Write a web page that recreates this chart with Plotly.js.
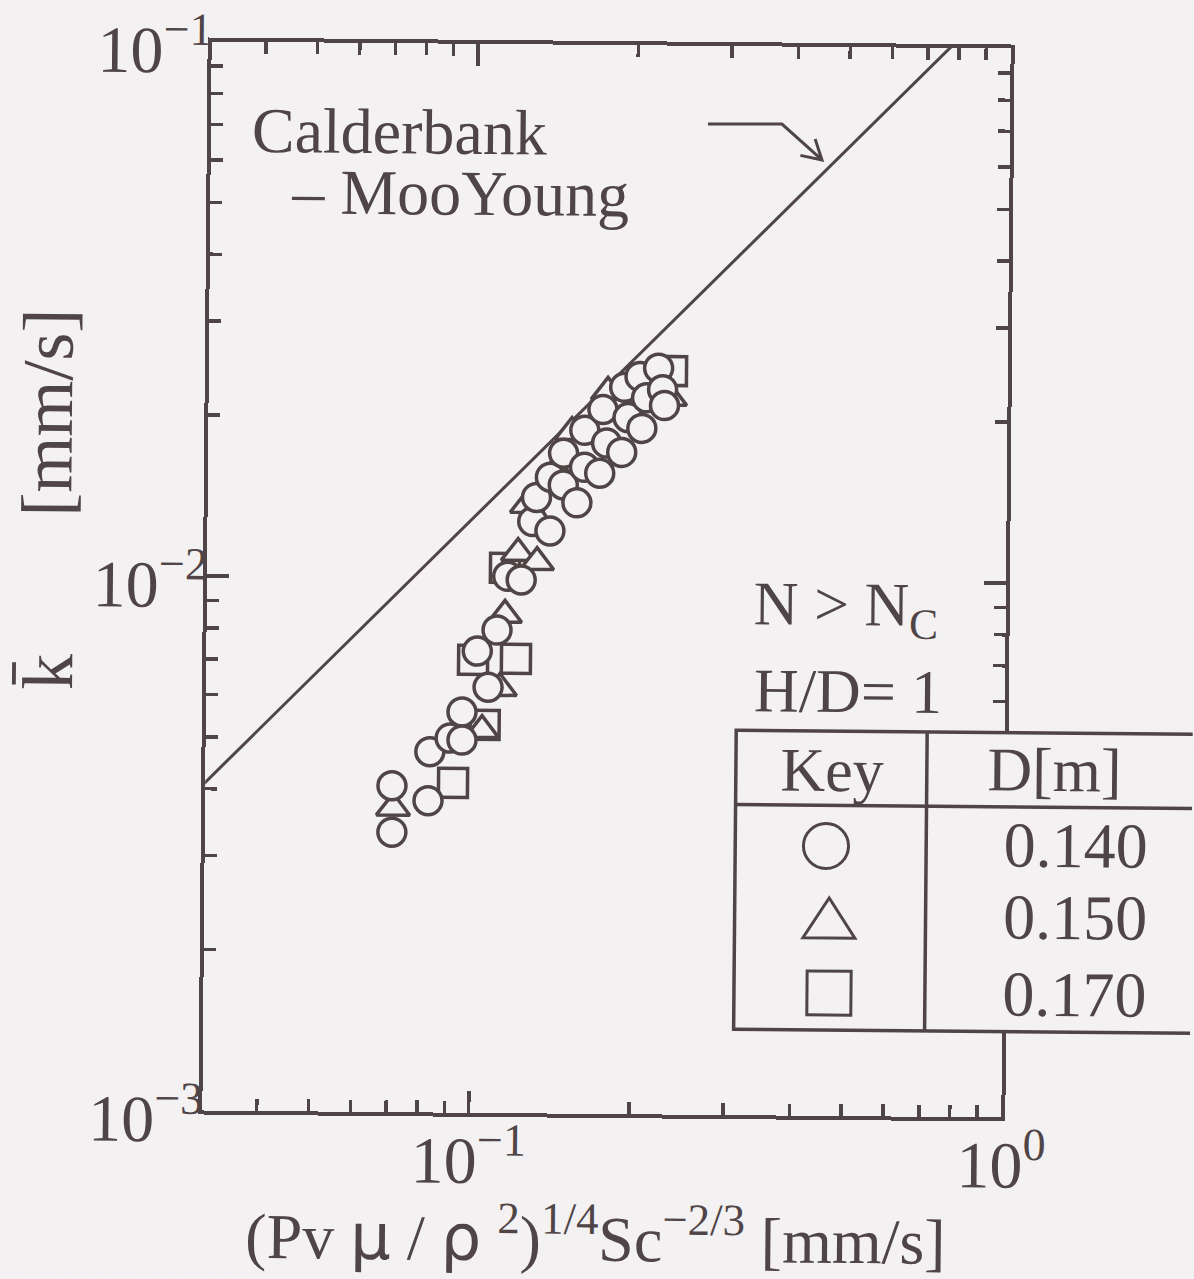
<!DOCTYPE html>
<html>
<head>
<meta charset="utf-8">
<script src="https://cdn.plot.ly/plotly-3.0.1.min.js"></script>
<style>
  html, body { margin: 0; padding: 0; background: #f4f1f3; overflow: hidden; }
  #chart { width: 1194px; height: 1279px; transform: rotate(0.5deg); transform-origin: 606.5px 579.5px; }
</style>
</head>
<body>
<div id="chart"></div>
<script>
// Mass-transfer coefficient data, H/D = 1, N > Nc
// D = 0.140 m (circles)
const circleX = [0.0709, 0.0710, 0.0829, 0.0834, 0.0910, 0.0957, 0.0958, 0.102, 0.107, 0.111,
                 0.116, 0.123, 0.129, 0.131, 0.139, 0.139, 0.147, 0.147, 0.156, 0.161,
                 0.161, 0.172, 0.174, 0.177, 0.189, 0.191, 0.194, 0.204, 0.206, 0.210,
                 0.221, 0.225, 0.227];
const circleY = [0.00408, 0.00334, 0.00383, 0.00473, 0.00502, 0.00562, 0.00498, 0.00731, 0.00626, 0.00801,
                 0.0101, 0.00995, 0.0128, 0.0142, 0.0155, 0.0123, 0.0172, 0.0150, 0.0139, 0.0190,
                 0.0162, 0.0158, 0.0208, 0.0180, 0.0173, 0.0229, 0.0201, 0.0240, 0.0192, 0.0219,
                 0.0249, 0.0227, 0.0212];
// D = 0.150 m (triangles)
const triX = [0.0713, 0.1044, 0.1126, 0.1148, 0.1212, 0.1258, 0.1316, 0.1423, 0.1523, 0.1777, 0.2130, 0.2324];
const triY = [0.00371, 0.00520, 0.00624, 0.00855, 0.01117, 0.01374, 0.01075, 0.01600, 0.01885, 0.02243, 0.02315, 0.02191];
// D = 0.170 m (squares)
const sqX = [0.0923, 0.1002, 0.1056, 0.1146, 0.1206, 0.2342];
const sqY = [0.00414, 0.00704, 0.00532, 0.01047, 0.00708, 0.02461];
// Calderbank - Moo-Young correlation, k = 0.13 (P mu / rho^2)^(1/4) Sc^(-2/3)
const lineX = [0.03, 1.0];
const lineY = [0.0039, 0.13];

// Axis ticks
const sup = s => '<sup><span style="font-size:46px">' + s + '</span></sup>';
const xMajor = [0.1, 1];
const xMajorText = ['10' + sup('\u22121'), '10' + sup('0')];
const xMinor = [0.04, 0.05, 0.06, 0.07, 0.08, 0.09, 0.2, 0.3, 0.4, 0.5, 0.6, 0.7, 0.8, 0.9];
const yMajor = [0.001, 0.01, 0.1];
const yMajorText = ['10' + sup('\u22123'), '10' + sup('\u22122'), '10' + sup('\u22121')];
const yMinor = [0.002, 0.003, 0.004, 0.005, 0.006, 0.007, 0.008, 0.009,
                0.02, 0.03, 0.04, 0.05, 0.06, 0.07, 0.08, 0.09];

// Key table rows
const keyDiam = ['0.140', '0.150', '0.170'];

const INK = '#4f4546';
const BG = '#f4f1f3';
const FONT = 'Liberation Serif, Times New Roman, serif';

const markerBase = (symbol, size) => ({
  symbol: symbol, size: size, color: BG,
  line: { color: INK, width: 3.5 }
});

const traces = [
  { x: lineX, y: lineY, mode: 'lines', line: { color: INK, width: 3 }, hoverinfo: 'skip' },
  { x: sqX, y: sqY, mode: 'markers', marker: markerBase('square', 29) },
  { x: triX, y: triY, mode: 'markers', marker: markerBase('triangle-up', 29) },
  { x: circleX, y: circleY, mode: 'markers', marker: markerBase('circle', 28) }
];

const axisCommon = {
  type: 'log',
  showgrid: false, zeroline: false,
  showline: true, linecolor: INK, linewidth: 4,
  mirror: 'ticks',
  ticks: 'inside', ticklen: 22, tickwidth: 3.5, tickcolor: INK,
  tickmode: 'array',
  ticklabeloverflow: 'allow',
  tickfont: { family: FONT, size: 66, color: INK }
};

const layout = {
  width: 1194, height: 1279,
  margin: { l: 207, r: 188, t: 45, b: 165 },
  paper_bgcolor: BG, plot_bgcolor: BG,
  showlegend: false,
  font: { family: FONT, color: INK },
  xaxis: Object.assign({}, axisCommon, {
    range: [-1.5, 0],
    tickvals: xMajor, ticktext: xMajorText,
    ticklabelstandoff: -13,
    minor: { tickmode: 'array', tickvals: xMinor, ticks: 'inside', ticklen: 12, tickwidth: 3.5, tickcolor: INK, showgrid: false }
  }),
  yaxis: Object.assign({}, axisCommon, {
    range: [-3, -1],
    tickvals: yMajor, ticktext: yMajorText,
    ticklabelstandoff: -18,
    ticklabelshift: 8,
    minor: { tickmode: 'array', tickvals: yMinor, ticks: 'inside', ticklen: 12, tickwidth: 3.5, tickcolor: INK, showgrid: false }
  }),
  shapes: [
    // pointer from the label to the correlation line
    { type: 'path', xref: 'paper', yref: 'paper', layer: 'above',
      path: 'M 0.6220,0.9270 L 0.7146,0.9275 L 0.7651,0.8942 M 0.7563,0.9138 L 0.7651,0.8942 L 0.7380,0.8983',
      line: { color: INK, width: 3 } },
    // key table
    { type: 'rect', xref: 'paper', yref: 'paper', layer: 'above',
      x0: 0.664, x1: 1.30, y0: 0.0804, y1: 0.360,
      fillcolor: BG, line: { color: INK, width: 3.5 } },
    { type: 'line', xref: 'paper', yref: 'paper', layer: 'above',
      x0: 0.903, x1: 0.903, y0: 0.0804, y1: 0.360, line: { color: INK, width: 3.5 } },
    { type: 'line', xref: 'paper', yref: 'paper', layer: 'above',
      x0: 0.664, x1: 1.30, y0: 0.2905, y1: 0.2905, line: { color: INK, width: 3.5 } },
    // key symbols
    { type: 'circle', xref: 'paper', yref: 'paper', layer: 'above',
      x0: 0.7776 - 0.0282, x1: 0.7776 + 0.0282, y0: 0.2525 - 0.0210, y1: 0.2525 + 0.0210,
      line: { color: INK, width: 3 } },
    { type: 'path', xref: 'paper', yref: 'paper', layer: 'above',
      path: 'M 0.7497,0.1665 L 0.8148,0.1665 L 0.7822,0.2039 Z',
      line: { color: INK, width: 3 } },
    { type: 'rect', xref: 'paper', yref: 'paper', layer: 'above',
      x0: 0.7554, x1: 0.8105, y0: 0.0944, y1: 0.1355,
      line: { color: INK, width: 3 } }
  ],
  annotations: [
    { xref: 'paper', yref: 'paper', x: 0.0489, y: 0.9176, xanchor: 'left', yanchor: 'middle',
      text: 'Calderbank', showarrow: false, font: { family: FONT, size: 64, color: INK } },
    { xref: 'paper', yref: 'paper', x: 0.0984, y: 0.8599, xanchor: 'left', yanchor: 'middle',
      text: '\u2013 MooYoung', showarrow: false, font: { family: FONT, size: 64, color: INK } },
    { xref: 'paper', yref: 'paper', x: 0.6824, y: 0.4746, xanchor: 'left', yanchor: 'middle',
      text: 'N &gt; N<sub>C</sub>', showarrow: false, font: { family: FONT, size: 62, color: INK } },
    { xref: 'paper', yref: 'paper', x: 0.6833, y: 0.3979, xanchor: 'left', yanchor: 'middle',
      text: 'H/D= 1', showarrow: false, font: { family: FONT, size: 62, color: INK } },
    { xref: 'paper', yref: 'paper', x: 0.7844, y: 0.3237, xanchor: 'center', yanchor: 'middle',
      text: 'Key', showarrow: false, font: { family: FONT, size: 62, color: INK } },
    { xref: 'paper', yref: 'paper', x: 1.062, y: 0.3255, xanchor: 'center', yanchor: 'middle',
      text: 'D[m]', showarrow: false, font: { family: FONT, size: 62, color: INK } },
    { xref: 'paper', yref: 'paper', x: 1.090, y: 0.2550, xanchor: 'center', yanchor: 'middle',
      text: keyDiam[0], showarrow: false, font: { family: FONT, size: 64, color: INK } },
    { xref: 'paper', yref: 'paper', x: 1.090, y: 0.1872, xanchor: 'center', yanchor: 'middle',
      text: keyDiam[1], showarrow: false, font: { family: FONT, size: 64, color: INK } },
    { xref: 'paper', yref: 'paper', x: 1.090, y: 0.1156, xanchor: 'center', yanchor: 'middle',
      text: keyDiam[2], showarrow: false, font: { family: FONT, size: 64, color: INK } },
    // axis titles
    { xref: 'paper', yref: 'paper', x: 0.4927, y: -0.1135, xanchor: 'center', yanchor: 'middle',
      text: '(Pv <span style="font-family:DejaVu Sans">\u03bc</span> / <span style="font-family:DejaVu Sans">\u03c1</span> <sup>2</sup>)<sup>1/4</sup>Sc<sup>\u22122/3</sup> [mm/s]',
      showarrow: false, font: { family: FONT, size: 64, color: INK } },
    { xref: 'paper', yref: 'paper', x: -0.198, y: 0.4089, xanchor: 'center', yanchor: 'middle',
      text: 'k\u0304', textangle: -90,
      showarrow: false, font: { family: FONT, size: 72, color: INK } },
    { xref: 'paper', yref: 'paper', x: -0.2009, y: 0.6521, xanchor: 'center', yanchor: 'middle',
      text: '[mm/s]', textangle: -90,
      showarrow: false, font: { family: FONT, size: 72, color: INK } }
  ]
};

Plotly.newPlot('chart', traces, layout, { staticPlot: true, displayModeBar: false });
</script>
</body>
</html>
